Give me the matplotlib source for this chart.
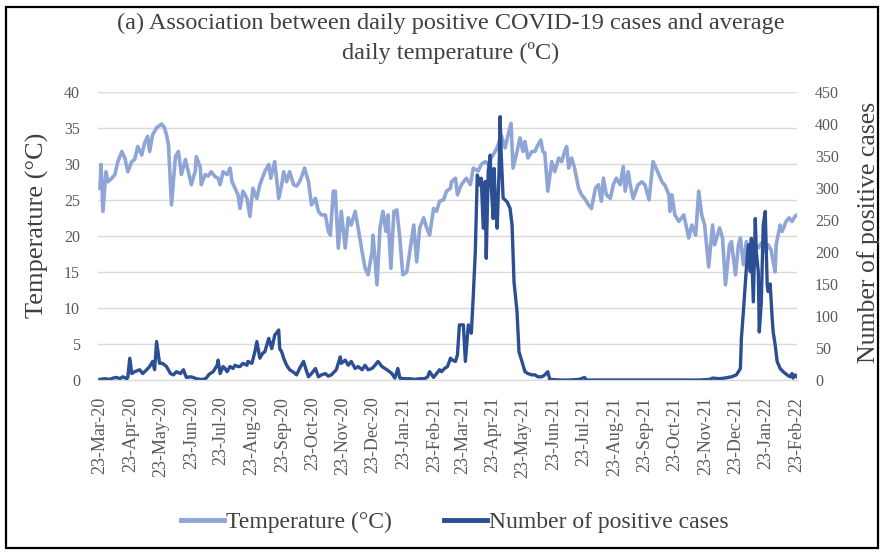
import numpy as np
import matplotlib
matplotlib.use("Agg")
import matplotlib.pyplot as plt
import matplotlib.dates as mdates
from matplotlib.patches import Rectangle
from matplotlib.lines import Line2D

# ---- data (day offset from 23-Mar-2020) ----
start_date = "2020-03-23"
end_date = "2022-02-23"

temp_days = [0, 1, 3, 6, 8, 12, 15, 18, 22, 25, 28, 32, 35, 38, 42, 45, 48, 50, 53, 57,
             62, 65, 67, 69, 72, 76, 79, 82, 86, 89, 92, 96, 97, 101, 102, 106, 109, 112, 116, 119,
             121, 124, 128, 131, 133, 136, 139, 141, 144, 148, 151, 154, 158, 161, 166, 170, 172, 176, 180, 183,
             185, 188, 191, 195, 198, 201, 205, 206, 210, 213, 217, 220, 223, 227, 230, 232, 235, 237, 240, 243,
             247, 250, 253, 257, 260, 264, 267, 270, 274, 275, 279, 282, 285, 288, 290, 293, 296, 299, 302, 305,
             309, 312, 316, 319, 322, 326, 329, 332, 336, 339, 342, 346, 349, 353, 354, 358, 360, 364, 369, 373,
             376, 381, 384, 388, 391, 394, 398, 401, 404, 408, 411, 414, 416, 420, 423, 426, 428, 431, 435, 438,
             441, 444, 446, 448, 451, 455, 458, 462, 465, 468, 470, 472, 475, 478, 482, 485, 488, 492, 495, 499,
             502, 505, 507, 510, 514, 517, 520, 524, 527, 529, 532, 534, 537, 542, 546, 549, 553, 557, 560, 566,
             569, 573, 574, 576, 579, 583, 588, 593, 596, 600, 603, 606, 609, 613, 617, 619, 624, 627, 630, 634,
             636, 640, 643, 645, 648, 651, 655, 658, 663, 666, 670, 673, 676, 678, 680, 681, 685, 687, 691, 694,
             697, 700, 702]
temp_vals = [26.6, 29.9, 23.4, 28.9, 27.5, 28.0, 28.5, 30.3, 31.7, 30.8, 28.9, 30.3, 30.6, 32.4, 31.2, 32.9, 33.8, 31.7, 34.0, 35.0,
             35.5, 35.0, 34.0, 32.6, 24.3, 31.0, 31.7, 28.5, 30.6, 28.9, 27.1, 29.0, 31.0, 29.5, 27.1, 28.5, 28.3, 28.9, 28.2, 28.0,
             27.1, 28.9, 28.5, 29.4, 27.5, 26.6, 25.7, 23.8, 26.2, 25.2, 22.7, 26.6, 25.2, 27.1, 28.9, 29.9, 28.0, 30.3, 25.2, 27.1,
             28.9, 27.5, 28.9, 27.1, 26.9, 27.5, 28.9, 29.4, 27.5, 24.3, 25.2, 23.4, 22.9, 22.9, 20.6, 20.1, 26.2, 26.2, 18.3, 23.4,
             18.3, 22.5, 21.5, 23.4, 21.1, 17.8, 15.5, 14.6, 17.8, 20.1, 13.2, 21.1, 23.4, 20.6, 22.9, 15.5, 23.4, 23.6, 19.7, 14.6,
             15.0, 17.8, 21.5, 16.4, 21.1, 22.5, 21.1, 20.1, 23.8, 23.4, 24.8, 25.0, 26.2, 26.6, 27.5, 28.0, 25.7, 27.1, 28.0, 27.1,
             29.4, 29.0, 29.9, 30.3, 29.9, 30.8, 31.7, 32.6, 34.0, 32.2, 34.0, 35.6, 29.4, 31.7, 33.6, 31.7, 33.1, 30.8, 31.7, 31.7,
             32.6, 33.3, 31.7, 31.5, 26.2, 30.3, 28.9, 30.8, 30.3, 31.7, 32.4, 29.4, 30.8, 29.4, 26.6, 25.7, 25.2, 24.3, 23.8, 26.6,
             27.1, 24.8, 28.0, 25.7, 25.2, 27.1, 28.0, 27.1, 29.6, 26.2, 28.9, 27.1, 25.2, 27.1, 27.5, 27.0, 25.0, 30.3, 29.4, 27.5,
             27.0, 25.7, 23.4, 25.7, 22.9, 22.0, 22.9, 19.7, 21.5, 20.1, 26.2, 22.9, 21.5, 15.7, 21.5, 18.75, 21.1, 19.7, 13.2, 18.75,
             19.2, 14.6, 18.75, 19.7, 16.0, 19.2, 17.4, 19.2, 18.3, 19.0, 17.8, 18.75, 18.0, 16.4, 15.0, 18.75, 21.5, 20.6, 22.0, 22.5,
             22.0, 22.7, 22.9]

case_days = [0, 5, 10, 13, 17, 20, 23, 27, 28, 30, 32, 35, 40, 43, 47, 50, 53, 55, 57, 60,
             63, 67, 71, 74, 77, 81, 84, 87, 91, 94, 97, 101, 104, 107, 110, 114, 118, 119, 121, 124,
             126, 128, 131, 134, 136, 139, 141, 144, 148, 149, 153, 156, 158, 161, 164, 166, 170, 173, 176, 180,
             181, 183, 185, 188, 191, 195, 198, 201, 205, 208, 210, 213, 217, 220, 223, 227, 230, 233, 238, 242,
             243, 247, 250, 253, 257, 260, 264, 267, 270, 274, 277, 280, 284, 287, 290, 294, 297, 300, 302, 307,
             312, 317, 322, 327, 330, 332, 336, 339, 342, 344, 347, 350, 353, 355, 358, 360, 362, 366, 368, 371,
             374, 376, 378, 380, 383, 384, 386, 388, 389, 391, 393, 394, 396, 397, 398, 400, 402, 403, 404, 406,
             410, 413, 415, 417, 420, 422, 425, 428, 431, 435, 438, 441, 445, 448, 451, 453, 463, 473, 483, 488,
             490, 504, 554, 604, 614, 617, 624, 629, 636, 641, 645, 646, 648, 650, 651, 653, 655, 656, 658, 660,
             661, 663, 664, 666, 668, 670, 672, 673, 675, 677, 678, 680, 682, 685, 688, 692, 695, 697, 698, 700,
             702]
case_vals = [1, 2, 1, 3, 4, 2, 5, 2, 4, 34, 10, 13, 16, 10, 16, 21, 29, 16, 60, 26,
             26, 21, 10, 8, 13, 10, 16, 4, 5, 4, 2, 1, 1, 3, 9, 13, 23, 31, 10, 21,
             18, 13, 21, 18, 23, 21, 21, 26, 23, 29, 26, 44, 60, 34, 42, 44, 65, 49, 70, 78,
             49, 44, 34, 23, 16, 12, 8, 18, 29, 14, 5, 10, 18, 5, 8, 10, 6, 8, 16, 36,
             26, 31, 23, 29, 18, 21, 16, 23, 16, 18, 23, 29, 21, 18, 15, 10, 3, 18, 3, 2,
             2, 1, 2, 2, 5, 13, 4, 10, 16, 13, 18, 21, 34, 31, 29, 39, 86, 86, 29, 86,
             73, 133, 200, 320, 304, 315, 237, 310, 190, 325, 351, 304, 252, 330, 284, 237, 330, 411, 356, 284,
             278, 268, 242, 153, 107, 44, 29, 13, 10, 8, 8, 5, 5, 8, 13, 1, 0, 0, 1, 4,
             0, 0, 0, 0, 1, 3, 2, 3, 5, 8, 18, 65, 107, 153, 174, 211, 169, 221, 122, 252,
             200, 169, 75, 120, 242, 263, 148, 138, 150, 96, 75, 55, 29, 18, 13, 8, 5, 10, 3, 8,
             5]

title_lines = ["(a) Association between daily positive COVID-19 cases and average",
               "daily temperature (\u00baC)"]
left_label = "Temperature (\u00b0C)"
right_label = "Number of positive cases"
legend_labels = ["Temperature (\u00b0C)", "Number of positive cases"]

# ---- style ----
plt.rcParams['font.family'] = ['Liberation Serif', 'DejaVu Serif']
TXT = '#595959'
TXT_DARK = '#404040'
C_TEMP = '#8fa5d6'
C_CASE = '#2c4f93'
GRID = '#d9d9d9'

W, H = 887, 553
fig = plt.figure(figsize=(W / 100, H / 100), dpi=100)
fig.patch.set_facecolor('white')

L, R, T, B = 98, 797, 91.7, 380
ax = fig.add_axes([L / W, 1 - B / H, (R - L) / W, (B - T) / H])
ax2 = ax.twinx()

d0 = np.datetime64(start_date)
t_dates = d0 + np.array(temp_days).astype('timedelta64[D]')
c_dates = d0 + np.array(case_days).astype('timedelta64[D]')

ax.plot(t_dates, temp_vals, color=C_TEMP, lw=2.6, solid_joinstyle='round')
ax2.plot(c_dates, case_vals, color=C_CASE, lw=2.4, solid_joinstyle='round')

ax.set_ylim(0, 40)
ax2.set_ylim(0, 450)
ax.set_yticks(np.arange(0, 41, 5))
ax2.set_yticks(np.arange(0, 451, 50))
ax.set_xlim(d0 - np.timedelta64(2, 'D'), np.datetime64(end_date))

ax.xaxis.set_major_locator(mdates.MonthLocator(bymonthday=23))
ax.xaxis.set_major_formatter(mdates.DateFormatter('%d-%b-%y'))

ax.grid(axis='y', color=GRID, lw=1.0)
ax.set_axisbelow(True)
for a in (ax, ax2):
    for s in ('top', 'left', 'right'):
        a.spines[s].set_visible(False)
    a.spines['bottom'].set_color(GRID)
    a.tick_params(length=0, colors=TXT)

ax.tick_params(axis='y', labelsize=11.5, pad=13)
ax2.tick_params(axis='y', labelsize=11.5, pad=13)
ax.tick_params(axis='x', labelsize=13, pad=12, labelrotation=90)

# titles and axis labels
fig.text(451 / W, 1 - 23 / H, title_lines[0], ha='center', va='center', fontsize=17.5, color=TXT_DARK)
fig.text(451 / W, 1 - 53 / H, title_lines[1], ha='center', va='center', fontsize=17.5, color=TXT_DARK)
fig.text(37 / W, 1 - 225 / H, left_label, rotation=90, ha='center', va='center', fontsize=19, color=TXT_DARK)
fig.text(869 / W, 1 - 232 / H, right_label, rotation=90, ha='center', va='center', fontsize=18.5, color=TXT_DARK)

handles = [Line2D([], [], color=C_TEMP, lw=3.5), Line2D([], [], color=C_CASE, lw=3.5)]
fig.legend(handles, legend_labels, loc='center', bbox_to_anchor=(455 / W, 1 - 522 / H),
           ncol=2, frameon=False, fontsize=17, labelcolor=TXT_DARK, handlelength=1.8,
           handletextpad=0.1, columnspacing=2.2)

fig.add_artist(Rectangle((6 / W, 5 / H), (878 - 6) / W, (546 - 5) / H, transform=fig.transFigure,
                         fill=False, edgecolor='black', lw=1.6))

fig.savefig('out.png', dpi=100)
